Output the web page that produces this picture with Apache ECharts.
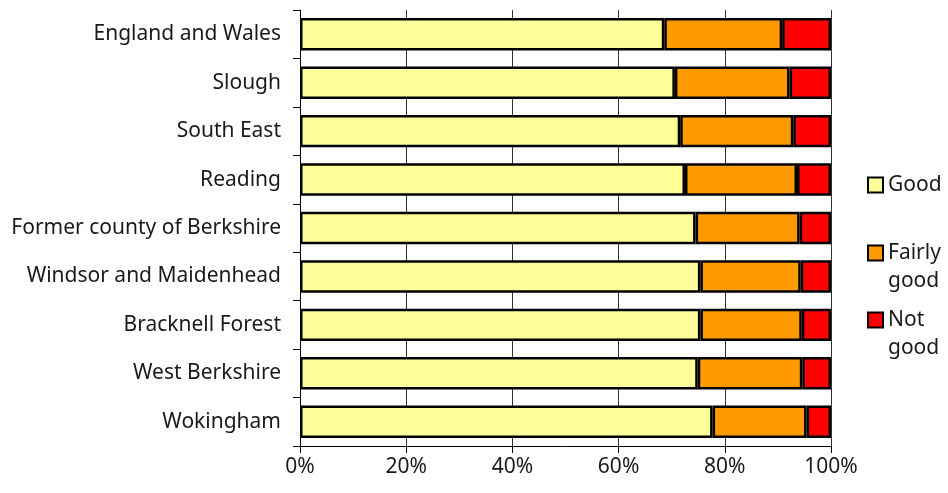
<!DOCTYPE html>
<html>
<head>
<meta charset="utf-8">
<script src="https://cdn.jsdelivr.net/npm/echarts@6/dist/echarts.min.js"></script>
<style>
  html, body { margin: 0; padding: 0; background: #fff; }
  #chart { width: 948px; height: 493px; }
</style>
</head>
<body>
<div id="chart"></div>
<script>
// General health of residents, share of population by area
const areas = [
  'England and Wales', 'Slough', 'South East', 'Reading',
  'Former county of Berkshire', 'Windsor and Maidenhead',
  'Bracknell Forest', 'West Berkshire', 'Wokingham'
];
const good       = [68.6, 70.6, 71.6, 72.5, 74.5, 75.4, 75.4, 74.9, 77.7];
const fairlyGood = [22.2, 21.6, 21.3, 21.1, 19.6, 18.9, 19.1, 19.7, 17.7];
const notGood    = [9.2, 7.8, 7.1, 6.4, 5.9, 5.7, 5.5, 5.4, 4.6];
const xTicks = [0, 20, 40, 60, 80, 100];

const FONT = 'Noto Sans';
const seriesDefs = [
  { name: 'Good', data: good, color: '#FFFF99' },
  { name: 'Fairly good', data: fairlyGood, color: '#FF9900' },
  { name: 'Not good', data: notGood, color: '#FF0000' }
];

// Two-line legend labels get an empty first line so the swatch lines up with the first word
const legendLabels = { 'Good': 'Good', 'Fairly good': ' \nFairly\ngood', 'Not good': ' \nNot\ngood' };
const legendTops = [171, 211, 278];

const chart = echarts.init(document.getElementById('chart'), null, { renderer: 'canvas' });
chart.setOption({
  animation: false,
  textStyle: { fontFamily: FONT },
  grid: { left: 300, right: 117, top: 10, bottom: 47, containLabel: false },
  legend: seriesDefs.map((s, i) => ({
    data: [{ name: s.name, icon: 'rect' }],
    left: 867,
    top: legendTops[i],
    orient: 'vertical',
    itemWidth: 15,
    itemHeight: 15,
    itemGap: 0,
    padding: 0,
    selectedMode: false,
    formatter: n => legendLabels[n],
    textStyle: { fontFamily: FONT, fontSize: 21, color: '#1a1a1a', lineHeight: 28 },
    itemStyle: { borderColor: '#000', borderWidth: 2 }
  })),
  xAxis: {
    type: 'value',
    min: 0, max: 100, interval: 20,
    axisLine: { show: true, lineStyle: { color: '#000', width: 1 } },
    axisTick: { show: true, length: 7, lineStyle: { color: '#000' } },
    splitLine: { show: true, lineStyle: { color: '#333', width: 1 } },
    axisLabel: {
      margin: 11, fontSize: 21, color: '#1a1a1a', fontFamily: FONT,
      formatter: v => (xTicks.includes(v) ? v + '%' : '')
    }
  },
  yAxis: {
    type: 'category',
    data: areas,
    inverse: true,
    axisLine: { show: true, lineStyle: { color: '#000', width: 1 } },
    axisTick: { show: true, length: 7, lineStyle: { color: '#000' } },
    axisLabel: { margin: 19, fontSize: 21, color: '#1a1a1a', fontFamily: FONT }
  },
  series: seriesDefs.map(s => ({
    name: s.name,
    type: 'bar',
    stack: 'total',
    data: s.data,
    barCategoryGap: '33%',
    itemStyle: { color: s.color, borderColor: '#000', borderWidth: 2.5 }
  }))
});
</script>
</body>
</html>
